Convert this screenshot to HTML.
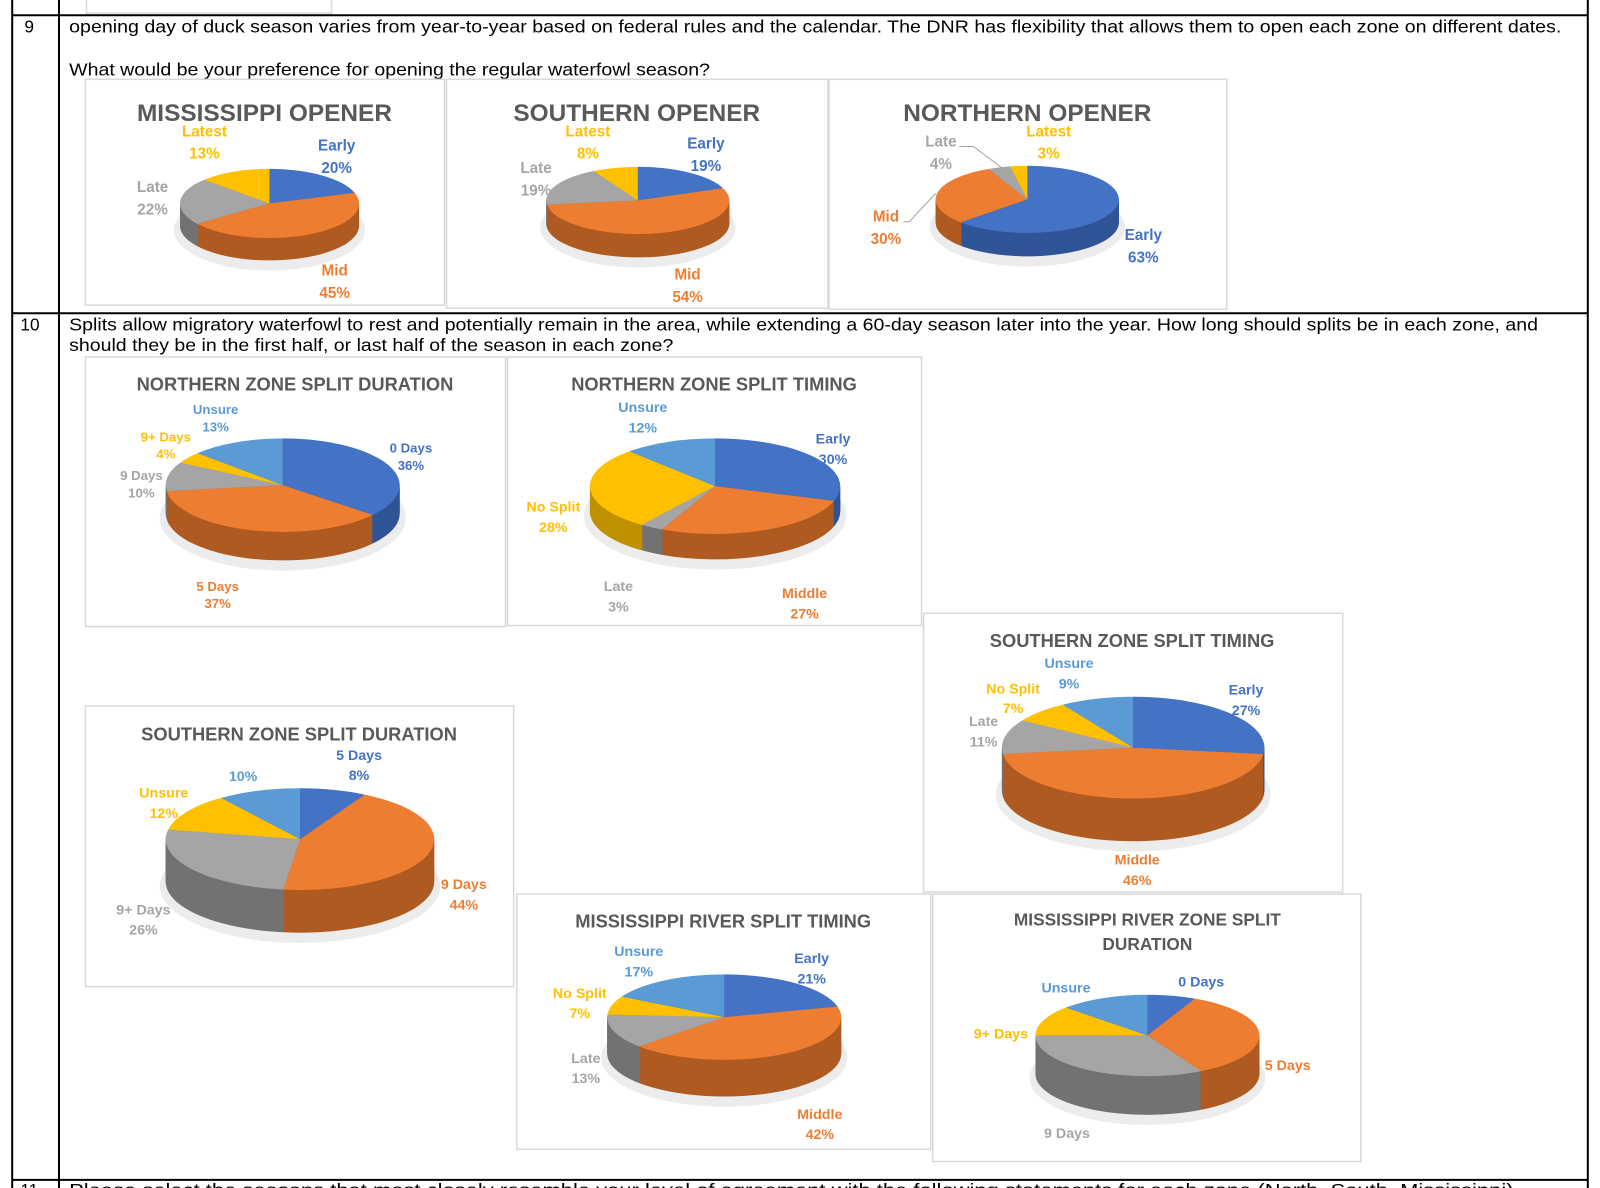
<!DOCTYPE html>
<html><head><meta charset="utf-8"><style>
html,body{margin:0;padding:0;background:#fff;}
svg{display:block;}
.t{font-family:"Liberation Sans",Arial,sans-serif;fill:#000;font-size:17px;}
.h{font-family:"Liberation Sans",Arial,sans-serif;font-weight:bold;fill:#595959;}
.l{font-family:"Liberation Sans",Arial,sans-serif;font-weight:bold;}
.b{fill:#4472c4}.o{fill:#ed7d31}.g{fill:#a5a5a5}.y{fill:#ffc000}.lb{fill:#5b9bd5}
</style></head><body>
<svg id="s" width="1600" height="1188" viewBox="0 0 1573 1168" preserveAspectRatio="none" xmlns="http://www.w3.org/2000/svg">
<rect width="1573" height="1168" fill="#fff"/>
<g stroke="#000" stroke-width="2" fill="none">
<line x1="12" y1="0" x2="12" y2="1168"/>
<line x1="58" y1="0" x2="58" y2="1168"/>
<line x1="1561" y1="0" x2="1561" y2="1168"/>
<line x1="12" y1="15" x2="1561" y2="15"/>
<line x1="12" y1="308" x2="1561" y2="308"/>
<line x1="12" y1="1160" x2="1561" y2="1160"/>
</g>
<rect x="85" y="-2" width="241" height="15" fill="none" stroke="#d9d9d9" stroke-width="1.5"/>
<text class="t" x="24" y="32">9</text>
<text class="t" x="68" y="32" textLength="1467" lengthAdjust="spacingAndGlyphs">opening day of duck season varies from year-to-year based on federal rules and the calendar.  The DNR has flexibility that allows them to open each zone on different dates.</text>
<text class="t" x="68" y="74" textLength="630" lengthAdjust="spacingAndGlyphs">What would be your preference for opening the regular waterfowl season?</text>
<text class="t" x="20" y="325">10</text>
<text class="t" x="68" y="325" textLength="1444" lengthAdjust="spacingAndGlyphs">Splits allow migratory waterfowl to rest and potentially remain in the area, while extending a 60-day season later into the year. How long should splits be in each zone, and</text>
<text class="t" x="68" y="345" textLength="594" lengthAdjust="spacingAndGlyphs">should they be in the first half, or last half of the season in each zone?</text>
<text class="t" x="20" y="1176">11</text>
<text class="t" x="68" y="1176" textLength="1420" lengthAdjust="spacingAndGlyphs">Please select the seasons that most closely resemble your level of agreement with the following statements for each zone (North, South, Mississippi)</text>
<g fill="none" stroke="#d9d9d9" stroke-width="1.5">
<rect x="84" y="78" width="353" height="222"/>
<rect x="439" y="78" width="375" height="225"/>
<rect x="815" y="78" width="391" height="226"/>
<rect x="84" y="351" width="413" height="265"/>
<rect x="499" y="351" width="407" height="264"/>
<rect x="908" y="603" width="412" height="274"/>
<rect x="84" y="694" width="421" height="276"/>
<rect x="508" y="879" width="407" height="251"/>
<rect x="917" y="879" width="421" height="263"/>
</g>
<g id="pies"></g>
<text class="h" x="260" y="119" font-size="24" text-anchor="middle">MISSISSIPPI  OPENER</text>
<text class="h" x="626" y="119" font-size="24" text-anchor="middle">SOUTHERN OPENER</text>
<text class="h" x="1010" y="119" font-size="24" text-anchor="middle">NORTHERN OPENER</text>
<text class="h" x="290" y="384" font-size="18" text-anchor="middle">NORTHERN ZONE SPLIT DURATION</text>
<text class="h" x="702" y="384" font-size="18" text-anchor="middle">NORTHERN ZONE SPLIT TIMING</text>
<text class="h" x="1113" y="636" font-size="18" text-anchor="middle">SOUTHERN ZONE SPLIT TIMING</text>
<text class="h" x="294" y="728" font-size="18" text-anchor="middle">SOUTHERN ZONE SPLIT DURATION</text>
<text class="h" x="711" y="912" font-size="18" text-anchor="middle">MISSISSIPPI RIVER  SPLIT TIMING</text>
<text class="h" x="1128" y="910" font-size="17" text-anchor="middle">MISSISSIPPI RIVER ZONE SPLIT</text>
<text class="h" x="1128" y="934" font-size="17" text-anchor="middle">DURATION</text>
<g class="l" font-size="15" text-anchor="middle">
<text x="201" y="134" class="y">Latest</text><text x="201" y="156" class="y">13%</text>
<text x="331" y="148" class="b">Early</text><text x="331" y="170" class="b">20%</text>
<text x="150" y="189" class="g">Late</text><text x="150" y="211" class="g">22%</text>
<text x="329" y="271" class="o">Mid</text><text x="329" y="293" class="o">45%</text>
<text x="578" y="134" class="y">Latest</text><text x="578" y="156" class="y">8%</text>
<text x="694" y="146" class="b">Early</text><text x="694" y="168" class="b">19%</text>
<text x="527" y="170" class="g">Late</text><text x="527" y="192" class="g">19%</text>
<text x="676" y="275" class="o">Mid</text><text x="676" y="297" class="o">54%</text>
<text x="1031" y="134" class="y">Latest</text><text x="1031" y="156" class="y">3%</text>
<text x="925" y="144" class="g">Late</text><text x="925" y="166" class="g">4%</text>
<text x="871" y="218" class="o">Mid</text><text x="871" y="240" class="o">30%</text>
<text x="1124" y="236" class="b">Early</text><text x="1124" y="258" class="b">63%</text>
</g>
<g fill="none" stroke="#a5a5a5" stroke-width="1">
<polyline points="943,144 957,144 985,165"/>
<polyline points="888,218 894,218 920,190"/>
</g>
<g class="l" font-size="13" text-anchor="middle">
<text x="212" y="407" class="lb">Unsure</text><text x="212" y="424" class="lb">13%</text>
<text x="163" y="434" class="y">9+ Days</text><text x="163" y="451" class="y">4%</text>
<text x="139" y="472" class="g">9 Days</text><text x="139" y="489" class="g">10%</text>
<text x="404" y="445" class="b">0 Days</text><text x="404" y="462" class="b">36%</text>
<text x="214" y="581" class="o">5 Days</text><text x="214" y="598" class="o">37%</text>
</g>
<g class="l" font-size="14" text-anchor="middle">
<text x="632" y="405" class="lb">Unsure</text><text x="632" y="425" class="lb">12%</text>
<text x="819" y="436" class="b">Early</text><text x="819" y="456" class="b">30%</text>
<text x="544" y="503" class="y">No Split</text><text x="544" y="523" class="y">28%</text>
<text x="608" y="581" class="g">Late</text><text x="608" y="601" class="g">3%</text>
<text x="791" y="588" class="o">Middle</text><text x="791" y="608" class="o">27%</text>
<text x="1051" y="657" class="lb">Unsure</text><text x="1051" y="677" class="lb">9%</text>
<text x="996" y="682" class="y">No Split</text><text x="996" y="701" class="y">7%</text>
<text x="967" y="714" class="g">Late</text><text x="967" y="734" class="g">11%</text>
<text x="1225" y="683" class="b">Early</text><text x="1225" y="703" class="b">27%</text>
<text x="1118" y="850" class="o">Middle</text><text x="1118" y="870" class="o">46%</text>
<text x="353" y="747" class="b">5 Days</text><text x="353" y="767" class="b">8%</text>
<text x="239" y="768" class="lb">10%</text>
<text x="161" y="784" class="y">Unsure</text><text x="161" y="804" class="y">12%</text>
<text x="456" y="874" class="o">9 Days</text><text x="456" y="894" class="o">44%</text>
<text x="141" y="899" class="g">9+ Days</text><text x="141" y="919" class="g">26%</text>
<text x="628" y="940" class="lb">Unsure</text><text x="628" y="960" class="lb">17%</text>
<text x="798" y="947" class="b">Early</text><text x="798" y="967" class="b">21%</text>
<text x="570" y="981" class="y">No Split</text><text x="570" y="1001" class="y">7%</text>
<text x="576" y="1045" class="g">Late</text><text x="576" y="1065" class="g">13%</text>
<text x="806" y="1100" class="o">Middle</text><text x="806" y="1120" class="o">42%</text>
<text x="1048" y="976" class="lb">Unsure</text>
<text x="1181" y="970" class="b">0 Days</text>
<text x="984" y="1021" class="y">9+ Days</text>
<text x="1266" y="1052" class="o">5 Days</text>
<text x="1049" y="1119" class="g">9 Days</text>
</g>
</svg>
<script>
var C={b:["#4472c4","#2f5597"],o:["#ed7d31","#ae5a21"],g:["#a5a5a5","#727272"],y:["#ffc000","#bf9000"],l:["#5b9bd5","#41719c"]};
var P=[
[265,200,88,34,22,[[20,"b"],[45,"o"],[22,"g"],[13,"y"]]],
[627,197,90,33,23,[[19,"b"],[54,"o"],[19,"g"],[8,"y"]]],
[1010,196,90,33,23,[[63,"b"],[30,"o"],[4,"g"],[3,"y"]]],
[278,477,115,46,28,[[36,"b"],[37,"o"],[10,"g"],[4,"y"],[13,"l"]]],
[703,478,123,47,25,[[30,"b"],[27,"o"],[3,"g"],[28,"y"],[12,"l"]]],
[1114,735,129,50,42,[[27,"b"],[46,"o"],[11,"g"],[7,"y"],[9,"l"]]],
[295,825,132,50,42,[[8,"b"],[44,"o"],[26,"g"],[12,"y"],[10,"l"]]],
[712,1000,115,42,36,[[21,"b"],[42,"o"],[13,"g"],[7,"y"],[17,"l"]]],
[1128,1018,110,40,38,[[7,"b"],[35,"o"],[33,"g"],[12,"y"],[13,"l"]]]
];
var g=document.getElementById("pies"),h="";
function wedge(cx,cy,rx,ry,a0,a1,f){
 var t0=a0*Math.PI/50,t1=a1*Math.PI/50;
 var x0=cx+rx*Math.sin(t0),y0=cy-ry*Math.cos(t0),x1=cx+rx*Math.sin(t1),y1=cy-ry*Math.cos(t1);
 var lg=(a1-a0)>50?1:0;
 return '<path d="M'+cx+' '+cy+'L'+x0.toFixed(1)+' '+y0.toFixed(1)+'A'+rx+' '+ry+' 0 '+lg+' 1 '+x1.toFixed(1)+' '+y1.toFixed(1)+'Z" fill="'+f+'"/>';
}
P.forEach(function(p){
 var cx=p[0],cy=p[1],rx=p[2],ry=p[3],d=p[4],s=p[5];
 h+='<ellipse cx="'+cx+'" cy="'+(cy+d+4)+'" rx="'+(rx+6)+'" ry="'+(ry+6)+'" fill="#ececec"/>';
 for(var k=d;k>=1;k--){var a=0;s.forEach(function(q){h+=wedge(cx,cy+k,rx,ry,a,a+q[0],C[q[1]][1]);a+=q[0];});}
 var a=0;s.forEach(function(q){h+=wedge(cx,cy,rx,ry,a,a+q[0],C[q[1]][0]);a+=q[0];});
});
g.innerHTML=h;
</script>
</body></html>
